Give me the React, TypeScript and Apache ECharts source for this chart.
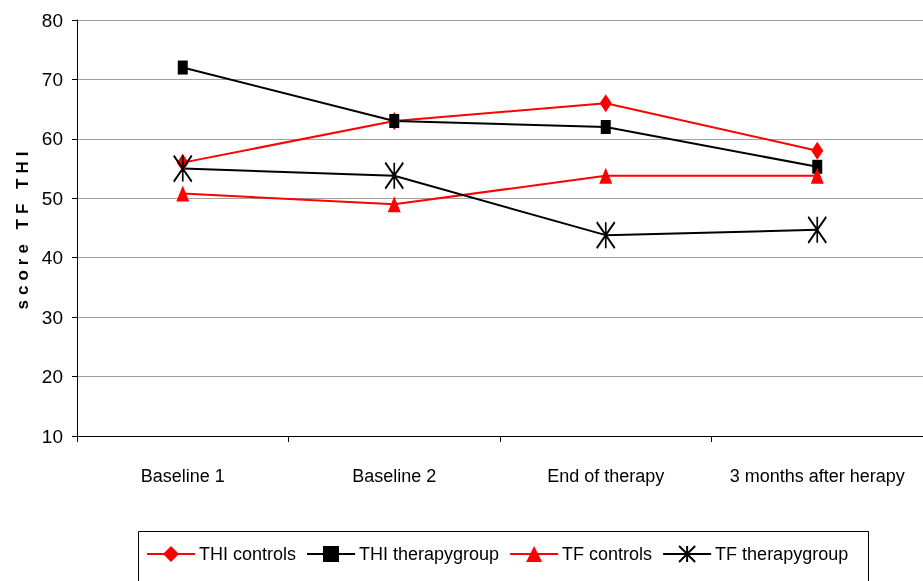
import React, { useEffect, useRef } from "react";
import * as echarts from "echarts";

const categories = ["Baseline 1", "Baseline 2", "End of therapy", "3 months after herapy"];
const thiControls = [56, 63, 66, 58];
const thiTherapy = [72, 63, 62, 55.3];
const tfControls = [50.8, 49, 53.8, 53.8];
const tfTherapy = [55, 53.8, 43.8, 44.7];
const yTicks = { min: 10, max: 80, interval: 10 };

const FONT = "'Liberation Sans', Arial, sans-serif";
const ASTERISK = "path://M0,0L18,26M18,0L0,26M9,0L9,26";

export default function App() {
  const ref = useRef<HTMLDivElement>(null);
  useEffect(() => {
    if (!ref.current) return;
    const chart = echarts.init(ref.current, null, { renderer: "svg" });
    const line = (name: string, data: number[], color: string, symbol: string, size: number[], extra: any = {}) => ({
      name,
      type: "line",
      data,
      symbol,
      symbolSize: size,
      symbolKeepAspect: false,
      lineStyle: { color, width: 2 },
      itemStyle: { color },
      emphasis: { disabled: true },
      ...extra,
    });
    chart.setOption({
      animation: false,
      textStyle: { fontFamily: FONT },
      grid: { left: 77, top: 20, width: 852, bottom: 145 },
      graphic: [
        {
          type: "rect",
          shape: { x: 138.5, y: 531.5, width: 730, height: 70 },
          style: { fill: "none", stroke: "#000", lineWidth: 1 },
          z: 0,
        },
      ],
      legend: {
        left: 146,
        top: 545,
        padding: 0,
        itemWidth: 48,
        itemHeight: 20,
        itemGap: 10,
        textStyle: { fontFamily: FONT, fontSize: 18, color: "#000", padding: [0, 0, 0, -1] },
        data: ["THI controls", "THI therapygroup", "TF controls", "TF therapygroup"],
      },
      xAxis: {
        type: "category",
        data: categories,
        axisLine: { lineStyle: { color: "#000", width: 1 } },
        axisTick: { show: true, interval: 0, length: 6, lineStyle: { color: "#000" } },
        axisLabel: { interval: 0, fontFamily: FONT, fontSize: 18, color: "#000", margin: 31 },
      },
      yAxis: {
        type: "value",
        min: yTicks.min,
        max: yTicks.max,
        interval: yTicks.interval,
        name: "score TF THI",
        nameLocation: "middle",
        nameGap: 44,
        nameTextStyle: { fontFamily: "Arial, 'Liberation Sans', sans-serif", fontSize: 17, fontWeight: "bold", color: "#000" },
        axisLine: { show: true, lineStyle: { color: "#000", width: 1 } },
        axisTick: { show: true, length: 5, lineStyle: { color: "#000" } },
        axisLabel: { fontFamily: FONT, fontSize: 19, color: "#000", margin: 14 },
        splitLine: { show: true, lineStyle: { color: "#a0a0a0", width: 1 } },
      },
      series: [
        line("THI controls", thiControls, "#ff0000", "diamond", [12, 18]),
        line("THI therapygroup", thiTherapy, "#000000", "rect", [10, 14]),
        line("TF controls", tfControls, "#ff0000", "triangle", [13, 16]),
        line("TF therapygroup", tfTherapy, "#000000", ASTERISK, [18, 26], {
          itemStyle: { color: "transparent", borderColor: "#000", borderWidth: 2 },
        }),
      ],
    });
    ref.current.querySelectorAll("text").forEach((t) => {
      if (t.textContent === "score TF THI") {
        t.setAttribute("letter-spacing", "5");
      }
    });
    return () => chart.dispose();
  }, []);
  return <div ref={ref} style={{ position: "fixed", left: 0, top: 0, width: 923, height: 581 }} />;
}
